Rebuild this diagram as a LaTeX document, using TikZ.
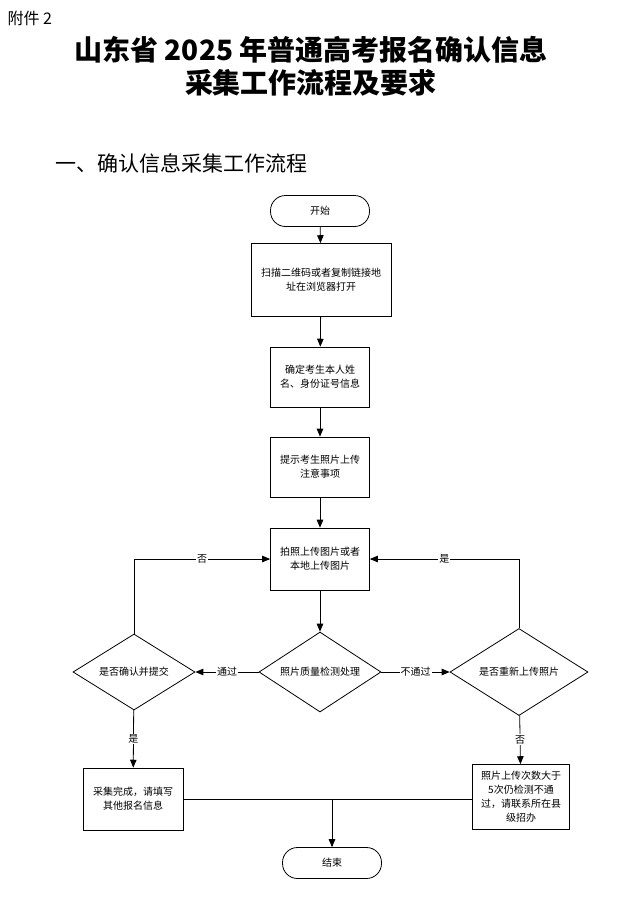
\documentclass[tikz,border=0pt]{standalone}
\usepackage{fontspec}
\setmainfont{Noto Sans CJK SC}
\usetikzlibrary{positioning,shapes,arrows}

\tikzset{
    box/.style = {draw, thick, align = center, font = \fontsize{10}{14}\selectfont, inner sep = 2pt},
    term/.style = {box, rounded corners = 15pt, minimum width = 99pt, minimum height = 31pt},
    check/.style = {draw, thick, diamond, aspect = 1.55, inner sep = 0pt, font = \fontsize{10}{12}\selectfont},
    flow/.style = {->, >=triangle 45, thick},
    tag/.style = {fill = white, inner sep = 1pt, font = \fontsize{10}{12}\selectfont}
}

\begin{document}
\begin{tikzpicture}[x = 1pt, y = -1pt]
    \useasboundingbox (0,0) rectangle (622,898);
    \node[anchor = west, font = \fontsize{16}{18}\selectfont] (att) at (4,18) {附件 2};
    \node[align = center, font = \fontsize{28}{33}\bfseries\selectfont] (title) at (311,66)
        {山东省 2025 年普通高考报名确认信息\\采集工作流程及要求};
    \node[anchor = west, font = \fontsize{21}{24}\selectfont] (head) at (52,163) {一、确认信息采集工作流程};

    \node[term] (start) at (320,211) {开始};
    \node[box, minimum width = 140pt, minimum height = 73pt] (scan) at (321,280) {扫描二维码或者复制链接地\\址在浏览器打开};
    \node[box, minimum width = 99pt, minimum height = 60pt] (ident) at (320,377) {确定考生本人姓\\名、身份证号信息};
    \node[box, minimum width = 99pt, minimum height = 60pt] (note) at (320,467) {提示考生照片上传\\注意事项};
    \node[box, minimum width = 99pt, minimum height = 62pt] (photo) at (320,559) {拍照上传图片或者\\本地上传图片};
    \node[check, minimum width = 122pt, minimum height = 80pt] (qc) at (320,672) {照片质量检测处理};
    \node[check, minimum width = 122pt, minimum height = 76pt] (sub) at (134,672) {是否确认并提交};
    \node[check, minimum width = 138pt, minimum height = 87pt] (redo) at (519,672) {是否重新上传照片};
    \node[box, minimum width = 100pt, minimum height = 62pt] (done) at (133,799) {采集完成，请填写\\其他报名信息};
    \node[box, minimum width = 97pt, minimum height = 65pt] (call) at (521,797) {照片上传次数大于\\5次仍检测不通\\过，请联系所在县\\级招办};
    \node[term] (stop) at (332,863) {结束};

    \coordinate (join) at (332,799);

    \draw[flow] (start) -- (scan);
    \draw[flow] (scan) -- (ident);
    \draw[flow] (ident) -- (note);
    \draw[flow] (note) -- (photo);
    \draw[flow] (photo) -- (qc);
    \draw[flow] (qc) -- node[tag] {通过} (sub);
    \draw[flow] (qc) -- node[tag] {不通过} (redo);
    \draw[flow] (sub.north) |- node[tag, pos = .75] {否} (photo.west);
    \draw[flow] (redo.north) |- node[tag, pos = .75] {是} (photo.east);
    \draw[flow] (sub) -- node[tag] {是} (done);
    \draw[flow] (redo) -- node[tag] {否} (call);
    \draw[thick] (done.east |- join) -- (call.west |- join);
    \draw[flow] (join) -- (stop);
\end{tikzpicture}
\end{document}
